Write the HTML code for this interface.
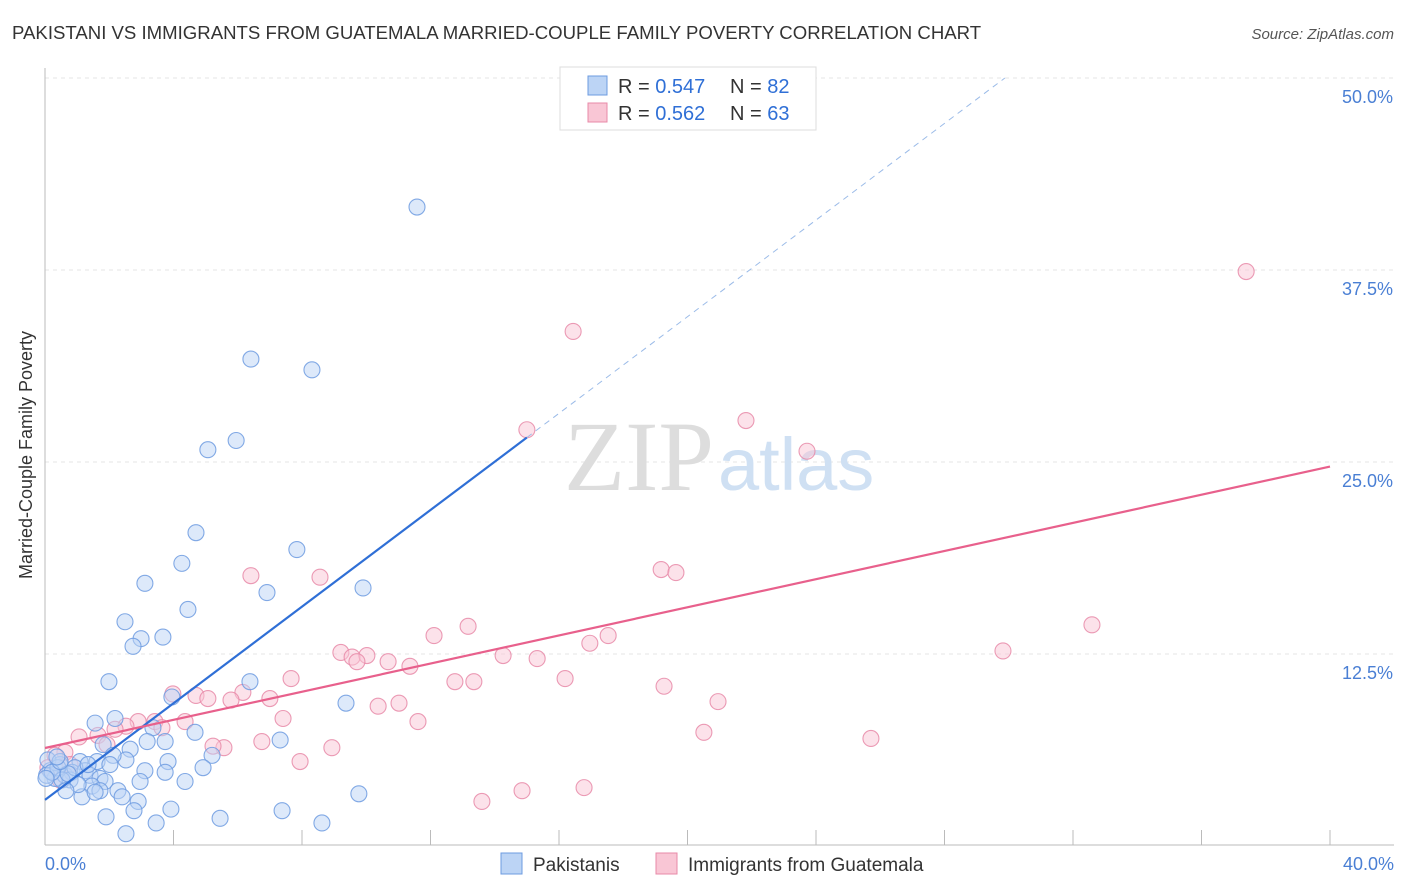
<!DOCTYPE html>
<html><head><meta charset="utf-8"><style>
body{margin:0;background:#fff;font-family:"Liberation Sans",sans-serif;}
svg{display:block}
</style></head><body>
<svg id="chart" width="1406" height="892" xmlns="http://www.w3.org/2000/svg">
<text x="12" y="39" font-size="18.6" fill="#333">PAKISTANI VS IMMIGRANTS FROM GUATEMALA MARRIED-COUPLE FAMILY POVERTY CORRELATION CHART</text>
<text x="1394" y="39" font-size="15" fill="#555" font-style="italic" text-anchor="end">Source: ZipAtlas.com</text>
<g id="grid"></g>
<text x="714" y="490" font-size="100" fill="#ddd" text-anchor="end" font-family="Liberation Serif">ZIP</text>
<text x="718" y="490" font-size="74" fill="#cfe0f3">atlas</text>
<g id="axes"></g>
<g id="pts"></g>
<g id="trends"></g>
<text x="32" y="455" font-size="18" fill="#333" text-anchor="middle" transform="rotate(-90 32 455)">Married-Couple Family Poverty</text>
<text x="45" y="870" font-size="18" fill="#4a7fd4">0.0%</text>
<text x="1394" y="870" font-size="18" fill="#4a7fd4" text-anchor="end">40.0%</text>
<g>
<rect x="560" y="67" width="256" height="63" fill="#fff" stroke="#ddd"/>
<rect x="588" y="76" width="19" height="19" fill="#bcd4f5" stroke="#6d9be0"/>
<rect x="588" y="103" width="19" height="19" fill="#f9c6d5" stroke="#e88aa8"/>
<text x="618" y="93" font-size="20" fill="#333">R = <tspan fill="#2f6fd6">0.547</tspan></text>
<text x="730" y="93" font-size="20" fill="#333">N = <tspan fill="#2f6fd6">82</tspan></text>
<text x="618" y="120" font-size="20" fill="#333">R = <tspan fill="#2f6fd6">0.562</tspan></text>
<text x="730" y="120" font-size="20" fill="#333">N = <tspan fill="#2f6fd6">63</tspan></text>
</g>
<g>
<rect x="501" y="853" width="21" height="21" fill="#bcd4f5" stroke="#6d9be0"/>
<text x="533" y="871" font-size="19" fill="#333">Pakistanis</text>
<rect x="656" y="853" width="21" height="21" fill="#f9c6d5" stroke="#e88aa8"/>
<text x="688" y="871" font-size="19" fill="#333">Immigrants from Guatemala</text>
</g>
</svg>
<script>
const yTicks=[12.5,25,37.5,50];
const yTickLabels=["12.5%","25.0%","37.5%","50.0%"];
const xTicks=[0,4,8,12,16,20,24,28,32,36,40];
const blueX=[11.58,6.41,8.31,5.95,5.07,4.70,4.26,7.84,3.11,4.45,6.91,9.90,2.49,2.99,3.67,2.74,1.99,6.38,3.95,9.37,2.18,1.56,3.36,4.67,7.32,1.81,2.65,3.18,3.74,5.20,2.52,3.83,2.12,1.62,1.09,0.47,0.16,0.31,0.62,0.84,1.25,1.40,1.71,1.87,3.11,3.74,4.92,2.96,4.36,1.46,2.27,1.15,2.40,2.90,0.78,0.05,0.09,0.40,0.93,1.34,0.53,3.92,2.77,1.90,5.45,7.38,3.46,2.52,8.62,9.77,0.72,0.22,0.47,2.02,1.71,1.03,0.65,1.56,0.37,0.03];
const blueY=[41.6,31.7,31.0,26.4,25.8,20.4,18.4,19.3,17.1,15.4,16.5,16.8,14.6,13.5,13.6,13.0,10.7,10.7,9.7,9.3,8.3,8.0,7.7,7.4,6.9,6.6,6.3,6.8,6.8,5.9,5.6,5.5,5.9,5.5,5.5,5.3,4.9,4.4,4.6,4.8,4.9,4.6,4.4,4.2,4.9,4.8,5.1,4.2,4.2,3.9,3.6,3.2,3.2,2.9,4.3,4.6,5.6,5.1,5.1,5.3,4.3,2.4,2.3,1.9,1.8,2.3,1.5,0.8,1.5,3.4,4.7,4.8,5.5,5.3,3.6,4.0,3.6,3.5,5.8,4.4];
const pinkX=[37.39,16.44,15.00,21.82,23.72,19.18,19.64,6.41,8.56,32.59,12.11,13.17,17.53,16.96,29.82,9.21,9.56,10.02,9.71,10.68,11.36,14.26,15.32,16.19,12.76,13.35,19.27,7.66,3.98,4.70,5.07,6.16,5.79,7.00,20.95,10.37,11.02,11.61,7.41,3.42,4.36,3.64,2.90,2.52,2.18,1.65,1.06,20.51,25.71,6.75,5.57,5.23,1.93,8.93,0.62,0.31,0.09,7.94,13.60,14.85,16.78,0.47,0.78];
const pinkY=[37.4,33.5,27.1,27.7,25.7,18.0,17.8,17.6,17.5,14.4,13.7,14.3,13.7,13.2,12.7,12.6,12.3,12.4,12.0,12.0,11.7,12.4,12.2,10.9,10.7,10.7,10.4,10.9,9.9,9.8,9.6,10.0,9.5,9.6,9.4,9.1,9.3,8.1,8.3,8.1,8.1,7.7,8.1,7.8,7.6,7.2,7.1,7.4,7.0,6.8,6.4,6.5,6.6,6.4,6.1,5.9,5.1,5.5,2.9,3.6,3.8,4.3,5.3];
const blueTrend=[3.0,1.573];  // intercept, slope
const pinkTrend=[6.38,0.458];
const NS="http://www.w3.org/2000/svg";
const X0=45,X1=1330,Y0=846,PXY=15.36;
function sx(v){return X0+v*(X1-X0)/40;}
function sy(v){return Y0-v*PXY;}
function mk(tag,attrs,parent){const e=document.createElementNS(NS,tag);for(const k in attrs)e.setAttribute(k,attrs[k]);document.getElementById(parent).appendChild(e);return e;}
yTicks.forEach((t,i)=>{
 const l=mk('line',{x1:45,x2:1394,y1:sy(t),y2:sy(t),stroke:'#e6e6e6','stroke-dasharray':'4,4'},'grid');
 
 
 const tx=mk('text',{x:1393,y:sy(t)+25,'font-size':18,fill:'#4a7fd4','text-anchor':'end'},'grid');
 tx.textContent=yTickLabels[i];
 
 
});
const ya=mk('line',{x1:45,x2:45,y1:68,y2:845,stroke:'#bbb'},'axes');


const xa=mk('line',{x1:45,x2:1394,y1:845,y2:845,stroke:'#bbb'},'axes');


xTicks.forEach(t=>{
 const k=mk('line',{x1:sx(t),x2:sx(t),y1:830,y2:845,stroke:'#bbb'},'axes');
 
 
});
function dots(xs,ys,fill,stroke,name){
 xs.forEach((v,i)=>{
  const c=mk('circle',{cx:sx(v),cy:sy(ys[i]),r:8,fill:fill,'fill-opacity':0.5,stroke:stroke,'stroke-opacity':0.85,'stroke-width':1.1},'pts');
  
  
 });
}
dots(pinkX,pinkY,'#f9c6d5','#e88aa8','guatemala-point');
dots(blueX,blueY,'#bcd4f5','#6d9be0','pakistani-point');
const bEnd=15,bDash=(50-blueTrend[0])/blueTrend[1];
const b1=mk('line',{x1:sx(0),y1:sy(blueTrend[0]),x2:sx(bEnd),y2:sy(blueTrend[0]+blueTrend[1]*bEnd),stroke:'#2f6fd6','stroke-width':2.2},'trends');


const b2=mk('line',{x1:sx(bEnd),y1:sy(blueTrend[0]+blueTrend[1]*bEnd),x2:sx(bDash),y2:sy(50),stroke:'#9bbbe8','stroke-width':1,'stroke-dasharray':'6,5'},'trends');


const p1=mk('line',{x1:sx(0),y1:sy(pinkTrend[0]),x2:sx(40),y2:sy(pinkTrend[0]+pinkTrend[1]*40),stroke:'#e8608c','stroke-width':2.2},'trends');


</script>
</body></html>
